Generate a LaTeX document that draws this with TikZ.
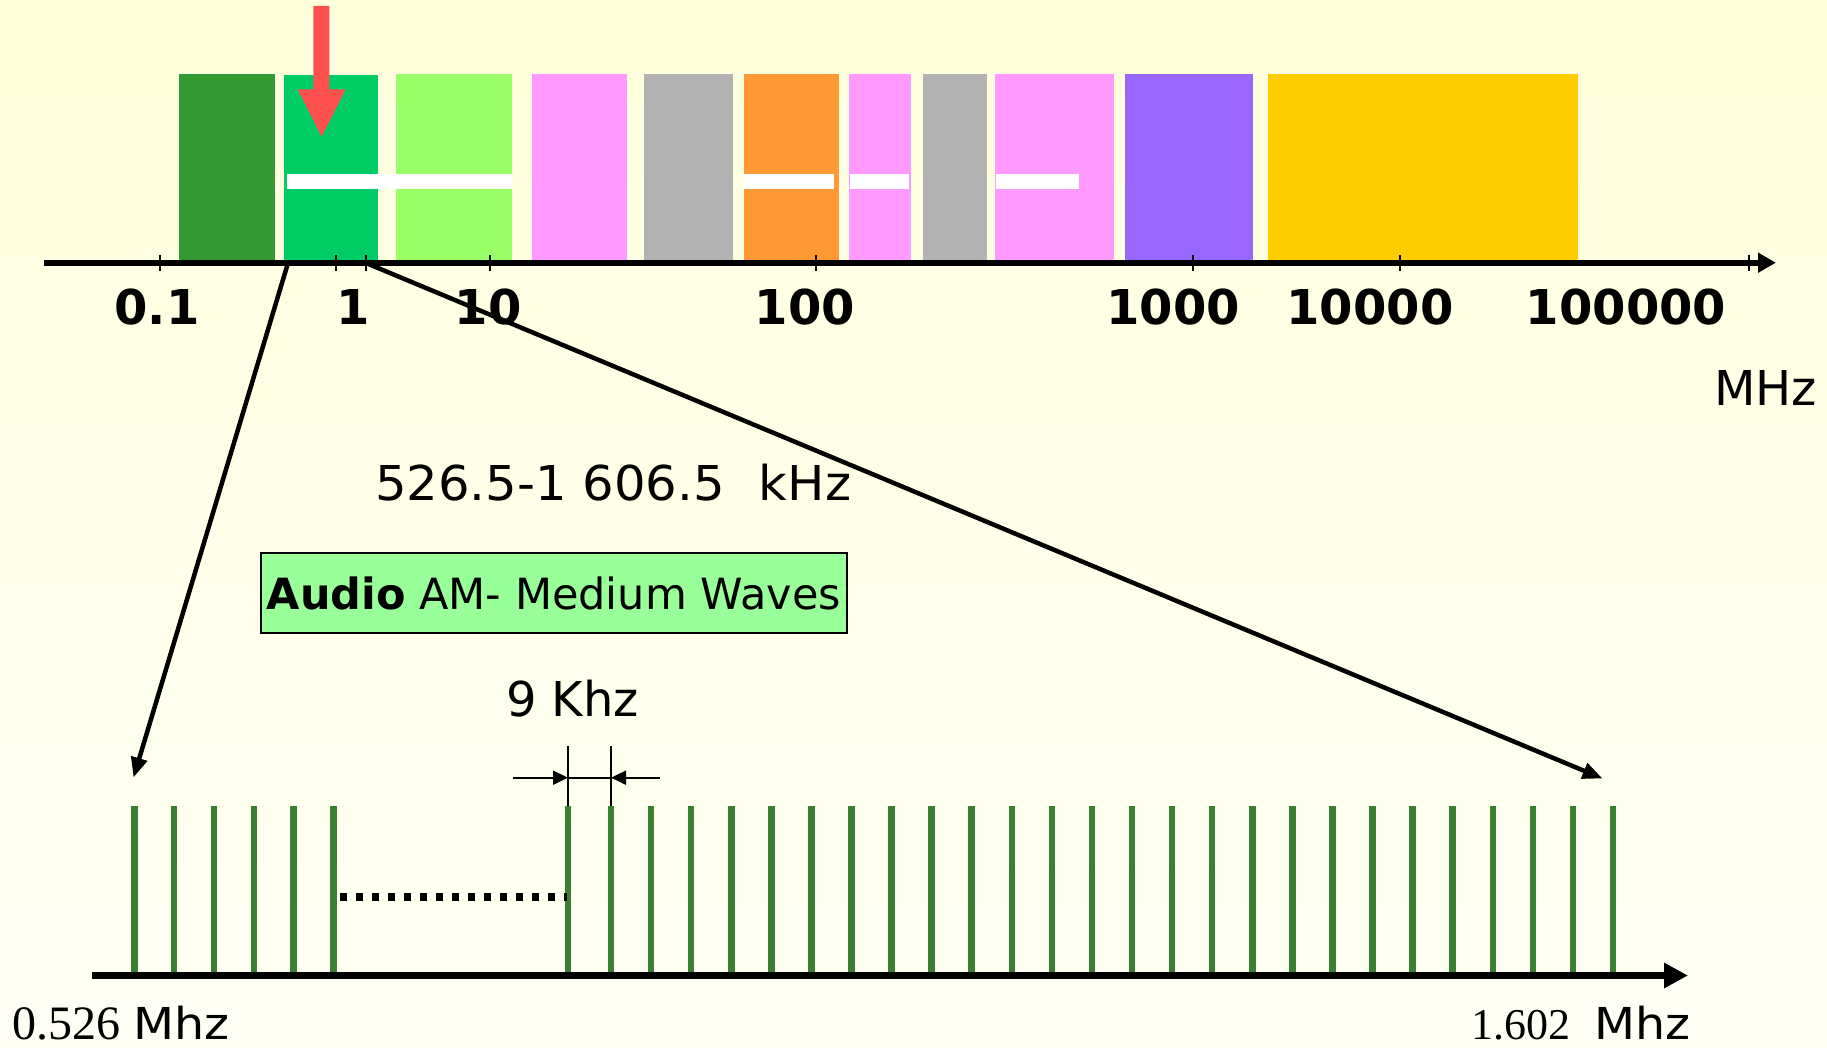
\documentclass[tikz,border=0pt]{standalone}
\usepackage{fontspec}
\setmainfont{DejaVu Sans}
\newfontfamily\numserif{Liberation Serif}
\usetikzlibrary{arrows.meta}

\definecolor{bgtop}{RGB}{255,255,220}
\definecolor{bgbot}{RGB}{255,255,246}
\definecolor{bandA}{RGB}{51,153,51}
\definecolor{bandB}{RGB}{0,204,102}
\definecolor{bandC}{RGB}{153,255,102}
\definecolor{bandPink}{RGB}{255,153,255}
\definecolor{bandGray}{RGB}{178,178,178}
\definecolor{bandOrange}{RGB}{255,153,51}
\definecolor{bandPurple}{RGB}{153,102,255}
\definecolor{bandYellow}{RGB}{255,204,0}
\definecolor{pointer}{RGB}{255,80,80}
\definecolor{carrier}{RGB}{59,128,50}
\definecolor{labelfill}{RGB}{153,255,153}

\newcommand\fsBig{\fontsize{48}{56}\selectfont}
\newcommand\fsBox{\fontsize{43}{50}\selectfont}
\newcommand\unitMhz{{\fontsize{44}{50}\selectfont\addfontfeature{FakeStretch=1.08}Mhz}}

\begin{document}
\begin{tikzpicture}[x=1pt,y=-1pt,
  whitebar/.style={fill=white},
  axtick/.style={line width=1.5pt},
  mainaxis/.style={line width=6pt,-{Triangle[length=18pt,width=19pt]}},
  freqaxis/.style={line width=7pt,-{Triangle[length=24pt,width=24pt]}},
  zoomline/.style={line width=4.5pt,-{Triangle[length=20pt,width=16pt]}},
  carrierline/.style={carrier,line width=6.5pt},
  dimline/.style={line width=2pt},
  dimarrow/.style={line width=2pt,-{Triangle[length=15pt,width=14pt]}},
  txt/.style={inner sep=0pt,font=\fsBig},
  axlabel/.style={inner sep=0pt,anchor=base,font=\bfseries\fsBig}]

% canvas with a soft yellow gradient
\useasboundingbox (0,0) rectangle (1827,1048);
\shade[top color=bgtop,bottom color=bgbot] (0,0) rectangle (1827,1048);

% spectrum bands
\fill[bandA]      (179,74) rectangle (275,261);
\fill[bandB]      (284,75) rectangle (378,261);
\fill[bandC]      (396,74) rectangle (512,261);
\fill[bandPink]   (532,74) rectangle (627,262);
\fill[bandGray]   (644,74) rectangle (733,262);
\fill[bandOrange] (744,74) rectangle (839,262);
\fill[bandPink]   (849,74) rectangle (911,262);
\fill[bandGray]   (923,74) rectangle (987,262);
\fill[bandPink]   (995,74) rectangle (1114,262);
\fill[bandPurple] (1125,74) rectangle (1253,261);
\fill[bandYellow] (1268,74) rectangle (1578,261);

% white separators inside the bands
\fill[whitebar] (287,174) rectangle (512,189);
\fill[whitebar] (744,174) rectangle (834,189);
\fill[whitebar] (850,174) rectangle (908.5,189);
\fill[whitebar] (996,174) rectangle (1079,189);

% pointer to the medium-wave band
\fill[pointer] (313.3,6) -- (329.3,6) -- (329.3,89.3) -- (345.7,89.3)
  -- (321.7,136.7) -- (297.7,89.3) -- (313.3,89.3) -- cycle;

% logarithmic frequency axis
\coordinate (axL) at (44,262.7);
\coordinate (axR) at (1776,262.7);
\draw[mainaxis] (axL) -- (axR);
\foreach \x in {160,336,366,490,816,1193,1400,1749}
  \draw[axtick] (\x,255) -- (\x,271);
\foreach \x/\t [count=\i] in {157/0.1,353/1,488/10,805/100,1173/1000,1370/10000,1626/100000}
  \node[axlabel] (dec\i) at (\x,325) {\t};
\node[txt,anchor=base west] (unit) at (1714,405) {MHz};

% zoom lines down to the channel raster
\coordinate (zoomL) at (288,263);
\coordinate (zoomR) at (366,263);
\coordinate (endL) at (133.5,777.5);
\coordinate (endR) at (1602.5,778.5);
\draw[zoomline] (zoomL) -- (endL);
\draw[zoomline] (zoomR) -- (endR);

% band description
\node[txt,anchor=base west] (range) at (375,500)
  {\addfontfeature{FakeStretch=1.035}526.5-1 606.5\hspace{34pt}kHz};
\node[draw,fill=labelfill,line width=2pt,minimum width=586pt,minimum height=80pt,
  inner sep=0pt,font=\fsBox] (service) at (554,593) {\textbf{Audio} AM- Medium Waves};

% channel carriers
\foreach \k in {0,...,5}
  \draw[carrierline] (134.4+39.8*\k,806) -- (134.4+39.8*\k,975);
\draw[carrierline] (568,806) -- (568,975);
\foreach \k in {0,...,25}
  \draw[carrierline] (611+40.08*\k,806) -- (611+40.08*\k,975);

% omitted channels
\draw[line width=7.5pt,dash pattern=on 7pt off 9pt] (340,897) -- (567,897);

% channel spacing dimension
\coordinate (dimTopA) at (568,746);
\coordinate (dimBotA) at (568,806);
\coordinate (dimTopB) at (611,746);
\coordinate (dimBotB) at (611,806);
\coordinate (dimA) at (568,777.7);
\coordinate (dimB) at (611,777.7);
\coordinate (dimFarL) at (513,777.7);
\coordinate (dimFarR) at (660,777.7);
\draw[dimline] (dimTopA) -- (dimBotA);
\draw[dimline] (dimTopB) -- (dimBotB);
\draw[dimline] (dimA) -- (dimB);
\draw[dimarrow] (dimFarL) -- (dimA);
\draw[dimarrow] (dimFarR) -- (dimB);
\node[txt,anchor=base west] (spacing) at (506,716) {9 Khz};

% linear axis of the medium-wave band
\coordinate (bL) at (92,975.5);
\coordinate (bR) at (1688,975.5);
\draw[freqaxis] (bL) -- (bR);
\node[inner sep=0pt,anchor=base west] (fmin) at (12,1039)
  {{\numserif\fontsize{48}{54}\selectfont 0.526}\hspace{13pt}\unitMhz};
\node[inner sep=0pt,anchor=base west] (fmax) at (1471,1039)
  {{\numserif\fontsize{44}{54}\selectfont 1.602}\hspace{24pt}\unitMhz};
\end{tikzpicture}
\end{document}
